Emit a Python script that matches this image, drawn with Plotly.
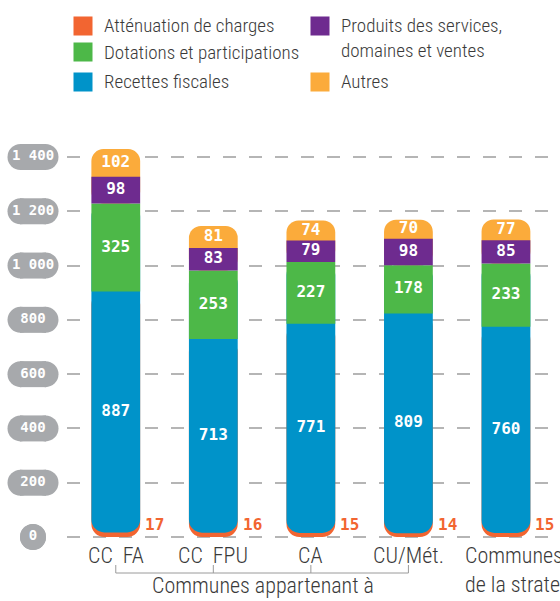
import plotly.graph_objects as go

# ---------------- data ----------------
categories = ["CC FA", "CC FPU", "CA", "CU/Mét.", "Communes de la strate"]
category_labels = ["CC\u00a0\u00a0FA", "CC\u00a0\u00a0FPU", "CA", "CU/Mét.", "Communes<br>de la strate"]
attenuation = [17, 16, 15, 14, 15]
recettes = [887, 713, 771, 809, 760]
dotations = [325, 253, 227, 178, 233]
produits = [98, 83, 79, 98, 85]
autres = [102, 81, 74, 70, 77]
y_ticks = [0, 200, 400, 600, 800, 1000, 1200, 1400]
y_tick_labels = ["0", "200", "400", "600", "800", "1 000", "1 200", "1 400"]
group_caption = "Communes appartenant à"

series_names = ["Atténuation de charges", "Dotations et participations", "Recettes fiscales",
                "Produits des services,<br>domaines et ventes", "Autres"]

# ---------------- style ----------------
C_ATT = "#F26531"
C_DOT = "#4DB848"
C_REC = "#0093C9"
C_PRO = "#6E2B8F"
C_AUT = "#FBAB3B"
GREY = "#A7A9AC"
TXT = "#3A3A3A"
FONT_TXT = "Liberation Sans Narrow, Roboto Condensed, DejaVu Sans Condensed, Roboto, sans-serif"
FONT_NUM = "DejaVu Sans Mono, monospace"

W, H = 560, 601
PLOT_L, PLOT_T, PLOT_B = 67, 140, 545
Y_RANGE = [-29.5, 1462.6]
X_RANGE = [-0.5, 4.554]
BAR_W = 0.5

# cumulative levels derived from the data
rec_top = [a + r for a, r in zip(attenuation, recettes)]
dot_top = [b + d for b, d in zip(rec_top, dotations)]
pro_top = [b + p for b, p in zip(dot_top, produits)]
total = [b + a for b, a in zip(pro_top, autres)]

fig = go.Figure()

def bar(y, base, color, name, radius=None, values=None):
    m = dict(color=color, line=dict(width=0))
    if radius:
        m["cornerradius"] = radius
    fig.add_trace(go.Bar(
        x=categories, y=y, base=base, width=BAR_W, marker=m, name=name,
        customdata=values if values is not None else y,
        hovertemplate="%{x}<br>" + name.replace("<br>", " ") + " : %{customdata}<extra></extra>",
        showlegend=False,
    ))

# Drawing order chosen so that only the very bottom and very top of each column are rounded
bar(rec_top, [0] * 5, C_ATT, series_names[0], radius=13, values=attenuation)
bar([r + d for r, d in zip(recettes, dotations)], attenuation, C_REC, series_names[2],
    radius=13, values=recettes)
bar(dotations, rec_top, C_DOT, series_names[1])
bar([p + a for p, a in zip(produits, autres)], dot_top, C_AUT, series_names[4],
    radius=12, values=autres)
bar(produits, dot_top, C_PRO, series_names[3])

# segment value labels, centred in each segment
num_font = dict(family=FONT_NUM, size=16, color="white", weight="bold")
lab_x, lab_y, lab_t = [], [], []
for i, c in enumerate(categories):
    for lo, v in ((attenuation[i], recettes[i]), (rec_top[i], dotations[i]),
                  (dot_top[i], produits[i]), (pro_top[i], autres[i])):
        lab_x.append(c)
        lab_y.append(lo + v / 2)
        lab_t.append(str(v))
fig.add_trace(go.Scatter(x=lab_x, y=lab_y, text=lab_t, mode="text", textposition="middle center",
                         textfont=num_font, hoverinfo="skip", showlegend=False))

# ---------------- y tick "pills" (left subplot) ----------------
PILL_C = 33
pill_x, pill_y, sq_x, sq_y = [], [], [], []
for v, lbl in zip(y_ticks, y_tick_labels):
    half = 0 if len(lbl) == 1 else 12.5
    pill_x += [PILL_C - half, PILL_C + half]
    pill_y += [v, v]
    if half:
        sq_x.append(PILL_C)
        sq_y.append(v)
fig.add_trace(go.Scatter(x=pill_x, y=pill_y, mode="markers", xaxis="x2", yaxis="y2",
                         marker=dict(symbol="circle", size=26, color=GREY, line=dict(width=0)),
                         hoverinfo="skip", showlegend=False, cliponaxis=False))
fig.add_trace(go.Scatter(x=sq_x, y=sq_y, mode="markers", xaxis="x2", yaxis="y2",
                         marker=dict(symbol="square", size=26, color=GREY, line=dict(width=0)),
                         hoverinfo="skip", showlegend=False, cliponaxis=False))
fig.add_trace(go.Scatter(x=[PILL_C] * len(y_ticks), y=y_ticks, mode="text", xaxis="x2", yaxis="y2",
                         text=y_tick_labels, textposition="middle center",
                         textfont=dict(family=FONT_NUM, size=14, color="white", weight="bold"),
                         hoverinfo="skip", showlegend=False, cliponaxis=False))

# ---------------- bracket under the grouped categories ----------------
grp = categories[:4]
BR_TOP, BR_BOT = 36, 28
br_x = [grp[0], grp[0], grp[3], grp[3], None, grp[1], grp[1], None, grp[2], grp[2]]
br_y = [BR_TOP, BR_BOT, BR_BOT, BR_TOP, None, BR_BOT, BR_TOP, None, BR_BOT, BR_TOP]
fig.add_trace(go.Scatter(x=br_x, y=br_y, mode="lines", xaxis="x3", yaxis="y3",
                         line=dict(color="#9A9A9A", width=1), hoverinfo="skip", showlegend=False))

# ---------------- annotations ----------------
def py(p):
    return 1 - p / H

txt_font = dict(family=FONT_TXT, size=22, color=TXT, weight=300)

ann = []
# atténuation values next to the bars
for c, v in zip(categories, attenuation):
    ann.append(dict(x=c, y=0, xref="x", yref="y", text=f"<b>{v}</b>", showarrow=False,
                    xshift=39, yshift=12, xanchor="center", yanchor="middle",
                    font=dict(family=FONT_NUM, size=16, color=C_ATT)))

# category labels
for i, (c, lbl) in enumerate(zip(categories, category_labels)):
    if "<br>" in lbl:
        ann.append(dict(x=c, y=py(541), xref="x", yref="paper", text=lbl, showarrow=False,
                        xanchor="left", yanchor="top", align="left", xshift=-43, font=txt_font))
    else:
        ann.append(dict(x=c, y=py(555), xref="x", yref="paper", text=lbl, showarrow=False,
                        xanchor="center", yanchor="middle", font=txt_font))

# legend
legend_items = [
    (series_names[0], C_ATT, 82.5, 26),
    (series_names[1], C_DOT, 82.5, 52),
    (series_names[2], C_REC, 82.5, 81.5),
    (series_names[3], C_PRO, 319.5, 26),
    (series_names[4], C_AUT, 319.5, 81.5),
]
for name, col, sx, sy in legend_items:
    ann.append(dict(x=sx / W, y=py(sy), xref="paper", yref="paper", text=" ", showarrow=False,
                    width=18, height=18, bgcolor=col, borderpad=0,
                    xanchor="center", yanchor="middle"))
    ty = sy if "<br>" not in name else sy + 12.5
    ann.append(dict(x=(sx + 19) / W, y=py(ty), xref="paper", yref="paper", text=name,
                    showarrow=False, xanchor="left", yanchor="middle", align="left",
                    font=dict(family=FONT_TXT, size=19, color=TXT, weight=300)))

# group caption
ann.append(dict(x=263 / W, y=py(585), xref="paper", yref="paper", text=group_caption,
                showarrow=False, xanchor="center", yanchor="middle", font=txt_font))

fig.update_layout(
    width=W, height=H,
    margin=dict(l=0, r=0, t=0, b=0),
    paper_bgcolor="white", plot_bgcolor="white",
    barmode="overlay",
    showlegend=False,
    annotations=ann,
    xaxis=dict(domain=[PLOT_L / W, 1], range=X_RANGE, type="category",
               categoryorder="array", categoryarray=categories, showticklabels=False,
               showgrid=False, showline=False, ticks="", zeroline=False, anchor="y"),
    yaxis=dict(domain=[(H - PLOT_B) / H, (H - PLOT_T) / H], range=Y_RANGE,
               tickmode="array", tickvals=y_ticks, showticklabels=False,
               showgrid=True, gridcolor="#B5B5B5", gridwidth=1.5, griddash="13px,13px",
               zeroline=False, showline=False, ticks="", anchor="x"),
    xaxis2=dict(domain=[0, PLOT_L / W], range=[0, PLOT_L], visible=False, anchor="y2", fixedrange=True),
    yaxis2=dict(domain=[(H - PLOT_B) / H, (H - PLOT_T) / H], range=Y_RANGE, visible=False,
                anchor="x2", fixedrange=True),
    xaxis3=dict(domain=[PLOT_L / W, 1], range=X_RANGE, type="category",
                categoryorder="array", categoryarray=categories, visible=False, anchor="y3"),
    yaxis3=dict(domain=[0, (H - PLOT_B) / H], range=[0, H - PLOT_B], visible=False, anchor="x3"),
)

fig.write_html("out.html", config={"displayModeBar": False},
               post_script="document.body.style.margin='0';")
